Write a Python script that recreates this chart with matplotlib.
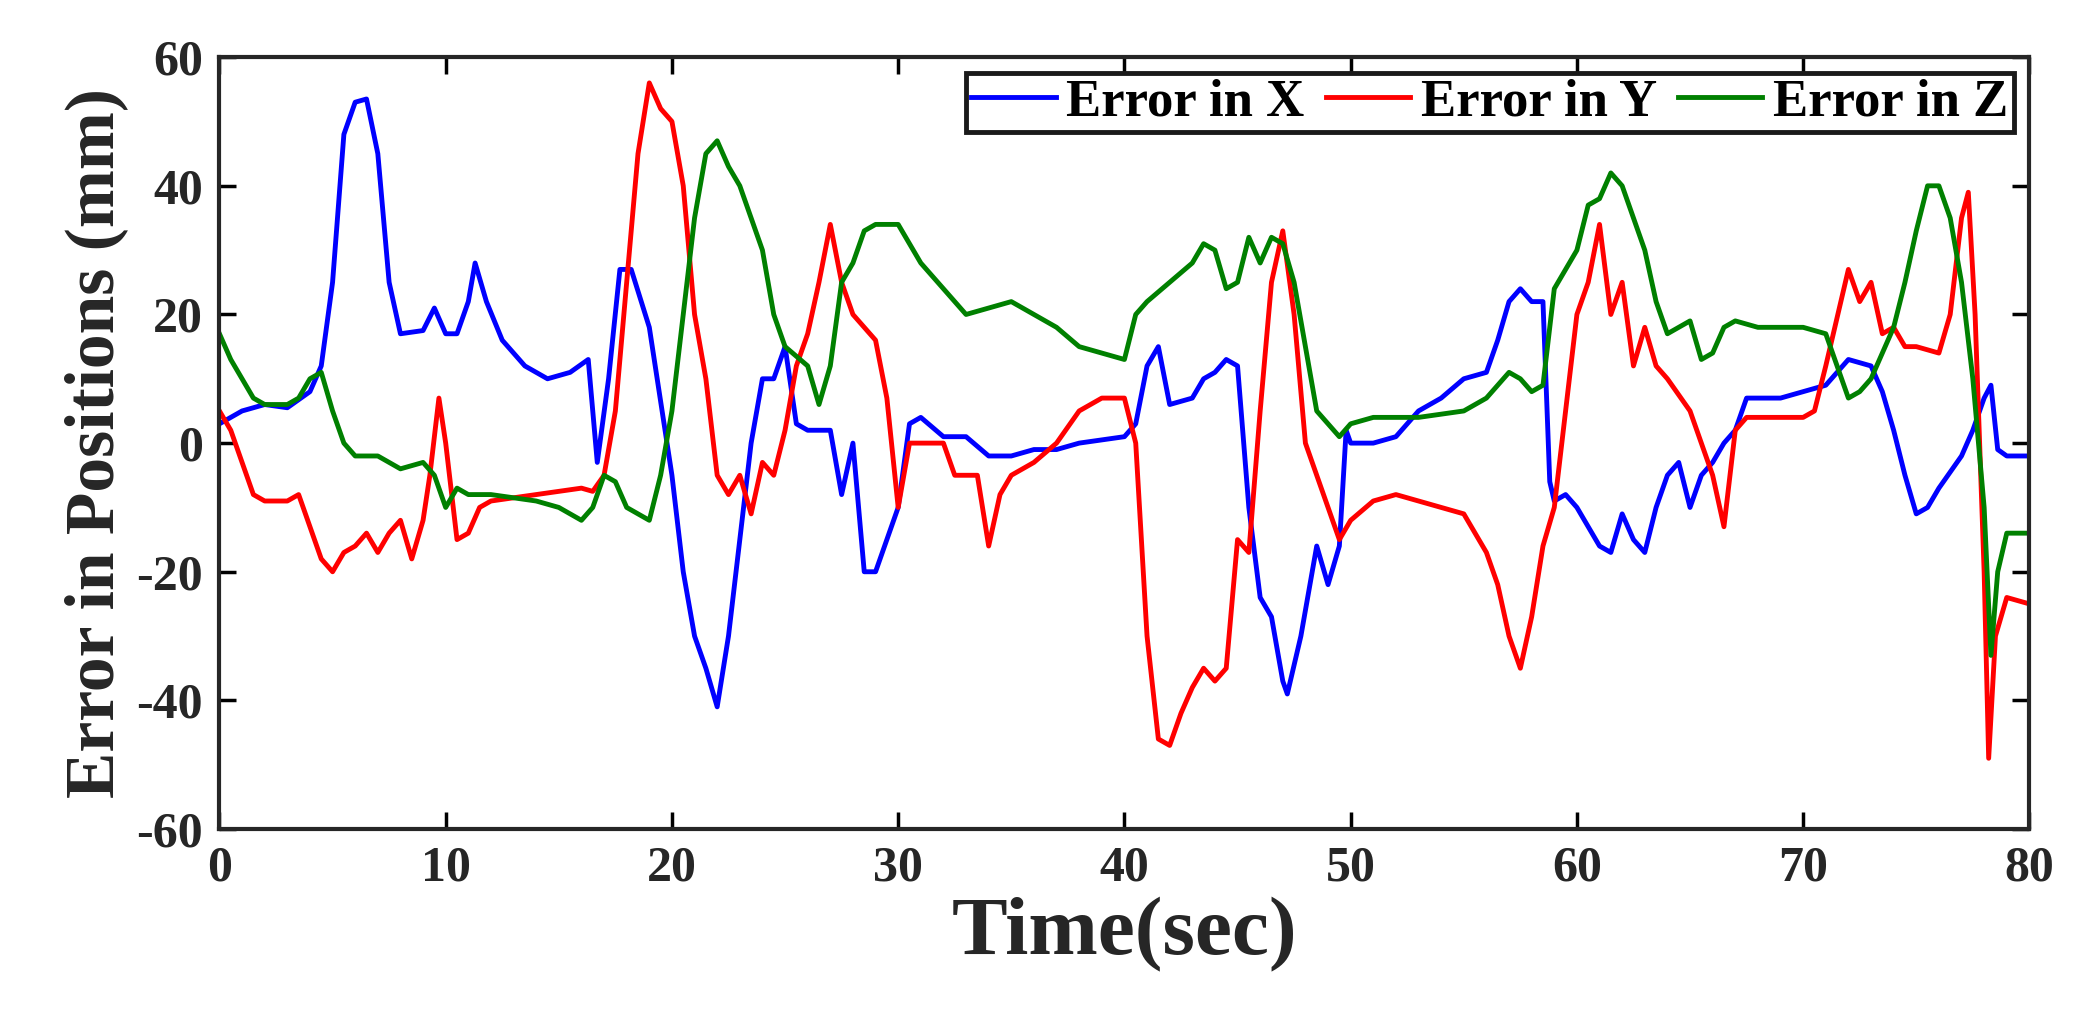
import matplotlib
matplotlib.use("Agg")
import matplotlib.pyplot as plt
import numpy as np

tx = [0,1,2,3,4,4.5,5,5.5,6,6.5,7,7.5,8,9,9.5,10,10.5,11,11.3,11.8,12.5,13.5,14.5,15.5,16.3,16.7,17.2,17.7,18.2,19,20,20.5,21,21.5,22,22.5,23,23.5,24,24.5,25,25.5,26,27,27.5,28,28.5,29,29.5,30,30.5,31,32,33,34,35,36,37,38,40,40.5,41,41.5,42,43,43.5,44,44.5,45,45.5,46,46.5,47,47.2,47.8,48.5,49,49.5,49.8,50,51,52,53,54,55,56,56.5,57,57.5,58,58.5,58.8,59,59.5,60,61,61.5,62,62.5,63,63.5,64,64.5,65,65.5,66,66.5,67,67.5,68,69,70,71,72,73,73.5,74,74.5,75,75.5,76,77,77.5,78,78.3,78.6,79,80]
ex = [3,5,6,5.5,8,12,25,48,53,53.5,45,25,17,17.5,21,17,17,22,28,22,16,12,10,11,13,-3,10,27,27,18,-5,-20,-30,-35,-41,-30,-15,0,10,10,15,3,2,2,-8,0,-20,-20,-15,-10,3,4,1,1,-2,-2,-1,-1,0,1,3,12,15,6,7,10,11,13,12,-10,-24,-27,-37,-39,-30,-16,-22,-16,2,0,0,1,5,7,10,11,16,22,24,22,22,-6,-9,-8,-10,-16,-17,-11,-15,-17,-10,-5,-3,-10,-5,-3,0,2,7,7,7,8,9,13,12,8,2,-5,-11,-10,-7,-2,2,7,9,-1,-2,-2]

ty = [0,0.5,1,1.5,2,3,3.5,4,4.5,5,5.5,6,6.5,7,7.5,8,8.5,9,9.3,9.7,10,10.5,11,11.5,12,14,16,16.5,17,17.5,18,18.5,19,19.5,20,20.5,21,21.5,22,22.5,23,23.5,24,24.5,25,25.5,26,26.5,27,27.5,28,28.5,29,29.5,30,30.5,31,32,32.5,33,33.5,34,34.5,35,36,37,38,39,40,40.5,41,41.5,42,42.5,43,43.5,44,44.5,45,45.5,46,46.5,47,47.5,48,49,49.5,50,51,52,53,54,55,56,56.5,57,57.5,58,58.5,59,59.5,60,60.5,61,61.5,62,62.5,63,63.5,64,65,65.5,66,66.5,67,67.5,68,70,70.5,71,72,72.5,73,73.5,74,74.5,75,76,76.5,77,77.3,77.6,78,78.2,78.5,79,80]
ey = [5,2,-3,-8,-9,-9,-8,-13,-18,-20,-17,-16,-14,-17,-14,-12,-18,-12,-5,7,0,-15,-14,-10,-9,-8,-7,-7.5,-5,5,25,45,56,52,50,40,20,10,-5,-8,-5,-11,-3,-5,2,12,17,25,34,25,20,18,16,7,-10,0,0,0,-5,-5,-5,-16,-8,-5,-3,0,5,7,7,0,-30,-46,-47,-42,-38,-35,-37,-35,-15,-17,5,25,33,20,0,-10,-15,-12,-9,-8,-9,-10,-11,-17,-22,-30,-35,-27,-16,-10,5,20,25,34,20,25,12,18,12,10,5,0,-5,-13,2,4,4,4,5,12,27,22,25,17,18,15,15,14,20,35,39,20,-20,-49,-30,-24,-25]

tz = [0,0.5,1,1.5,2,3,3.5,4,4.5,5,5.5,6,7,8,9,9.5,10,10.5,11,12,14,15,16,16.5,17,17.5,18,19,19.5,20,20.5,21,21.5,22,22.5,23,24,24.5,25,26,26.5,27,27.5,28,28.5,29,30,31,32,33,34,35,36,37,38,39,40,40.5,41,42,43,43.5,44,44.5,45,45.5,46,46.5,47,47.5,48,48.5,49,49.5,50,51,53,55,56,57,57.5,58,58.5,59,60,60.5,61,61.5,62,62.5,63,63.5,64,65,65.5,66,66.5,67,68,70,71,72,72.5,73,74,74.5,75,75.5,76,76.5,77,77.5,78,78.3,78.6,79,80]
ez = [17,13,10,7,6,6,7,10,11,5,0,-2,-2,-4,-3,-5,-10,-7,-8,-8,-9,-10,-12,-10,-5,-6,-10,-12,-5,5,20,35,45,47,43,40,30,20,15,12,6,12,25,28,33,34,34,28,24,20,21,22,20,18,15,14,13,20,22,25,28,31,30,24,25,32,28,32,31,25,15,5,3,1,3,4,4,5,7,11,10,8,9,24,30,37,38,42,40,35,30,22,17,19,13,14,18,19,18,18,17,7,8,10,18,25,33,40,40,35,25,10,-10,-33,-20,-14,-14]

plt.rcParams['font.family'] = ['Liberation Serif', 'DejaVu Serif']
plt.rcParams['font.weight'] = 'bold'
plt.rcParams['axes.unicode_minus'] = False
fig = plt.figure(figsize=(20.9, 10.21), dpi=100)
ax = fig.add_axes([0.105, 0.188, 0.866, 0.756])
ax.plot(tx, ex, color='#0000ff', lw=3.5, label='Error in X')
ax.plot(ty, ey, color='#ff0000', lw=3.5, label='Error in Y')
ax.plot(tz, ez, color='#008000', lw=3.5, label='Error in Z')
ax.set_xlim(0, 80)
ax.set_ylim(-60, 60)
ax.set_xticks(range(0, 81, 10))
ax.set_yticks(range(-60, 61, 20))
ax.tick_params(labelsize=36, direction='in', length=12, width=2.5, top=True, right=True, pad=12)
for lab in ax.get_xticklabels() + ax.get_yticklabels():
    lab.set_fontweight('bold')
    lab.set_color('#262626')
for s in ax.spines.values():
    s.set_linewidth(3)
    s.set_color('#262626')
ax.set_xlabel('Time(sec)', fontsize=60, fontweight='bold', color='#262626', labelpad=4)
ax.set_ylabel('Error in Positions (mm)', fontsize=50, fontweight='bold', color='#262626', labelpad=6)
leg = ax.legend(loc='upper right', ncol=3, prop={'weight': 'bold', 'size': 38},
                fancybox=False, edgecolor='#1a1a1a', borderpad=0.1, handlelength=1.6,
                handletextpad=0.2, columnspacing=0.4, borderaxespad=0.3, framealpha=1)
leg.get_frame().set_linewidth(3.5)
fig.savefig('out.png', dpi=100)
